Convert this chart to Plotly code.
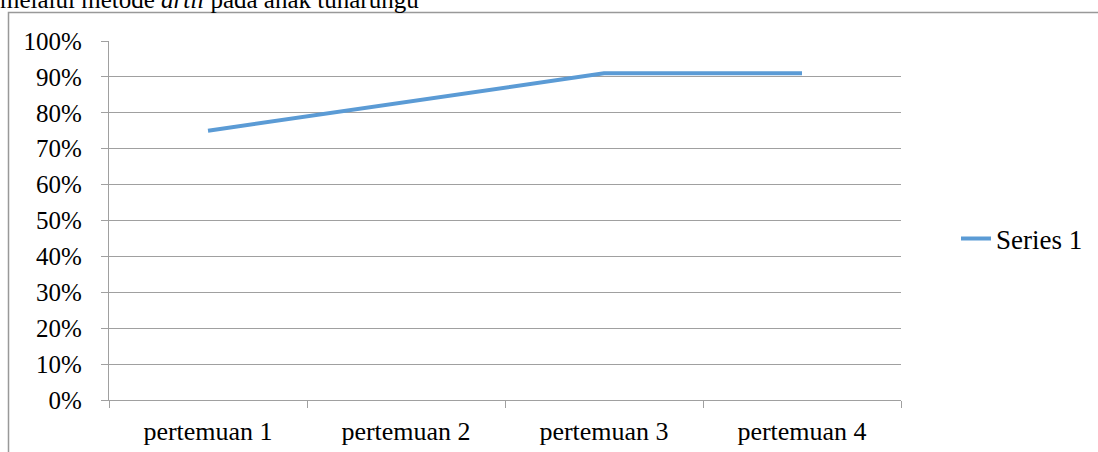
import plotly.graph_objects as go

categories = ["pertemuan 1", "pertemuan 2", "pertemuan 3", "pertemuan 4"]
series_name = "Series 1"
series_values = [0.75, 0.83, 0.91, 0.91]
y_tick_vals = [0, 0.1, 0.2, 0.3, 0.4, 0.5, 0.6, 0.7, 0.8, 0.9, 1.0]
caption = "melalui metode <i>artil</i> pada anak tunarungu"

W, H = 1098, 452
L, R, T, B = 109, 197, 41, 52
pw, ph = W - L - R, H - T - B

def px_x(p):
    return (p - L) / pw

def px_y(p):
    return (H - B - p) / ph

FONT = "Liberation Serif, Times New Roman, serif"
GRID = "#a0a0a0"

fig = go.Figure()
fig.add_trace(go.Scatter(
    x=categories, y=series_values, mode="lines", name=series_name,
    line=dict(color="#5B9BD5", width=4),
))

fig.update_layout(
    width=W, height=H,
    margin=dict(l=L, r=R, t=T, b=B, autoexpand=False),
    paper_bgcolor="white", plot_bgcolor="white",
    font=dict(family=FONT, size=25, color="black"),
    showlegend=True,
    legend=dict(x=px_x(956), y=px_y(239), xanchor="left", yanchor="middle",
                font=dict(family=FONT, size=27, color="black"),
                bgcolor="rgba(0,0,0,0)"),
    xaxis=dict(
        type="category", range=[-0.5, 3.5], tickson="boundaries",
        ticks="outside", ticklen=7, tickcolor=GRID, tickwidth=1.3,
        showline=True, linecolor=GRID, linewidth=1.3,
        showgrid=False, ticklabelstandoff=8, automargin=False,
        tickfont=dict(family=FONT, size=26, color="black"),
    ),
    yaxis=dict(
        range=[0, 1.0], tickvals=y_tick_vals, tickformat=".0%",
        ticks="outside", ticklen=7, tickcolor=GRID, tickwidth=1.3,
        showline=True, linecolor=GRID, linewidth=1.3,
        showgrid=True, gridcolor=GRID, gridwidth=1.3,
        zeroline=False, ticklabelstandoff=14, automargin=False,
        tickfont=dict(family=FONT, size=25, color="black"),
    ),
)

# outer chart border (partially visible)
fig.add_shape(type="rect", xref="paper", yref="paper",
              x0=px_x(8.5), x1=px_x(1110), y0=px_y(460), y1=px_y(12.5),
              line=dict(color="#999999", width=1.5), fillcolor="rgba(0,0,0,0)",
              layer="below")

fig.add_annotation(text=caption, xref="paper", yref="paper",
                   x=px_x(-2), y=px_y(15), xanchor="left", yanchor="bottom",
                   showarrow=False, font=dict(family=FONT, size=25, color="black"))

fig.write_html("out.html", config={"displayModeBar": False},
               post_script="document.body.style.margin='0';document.body.style.overflow='hidden';")
